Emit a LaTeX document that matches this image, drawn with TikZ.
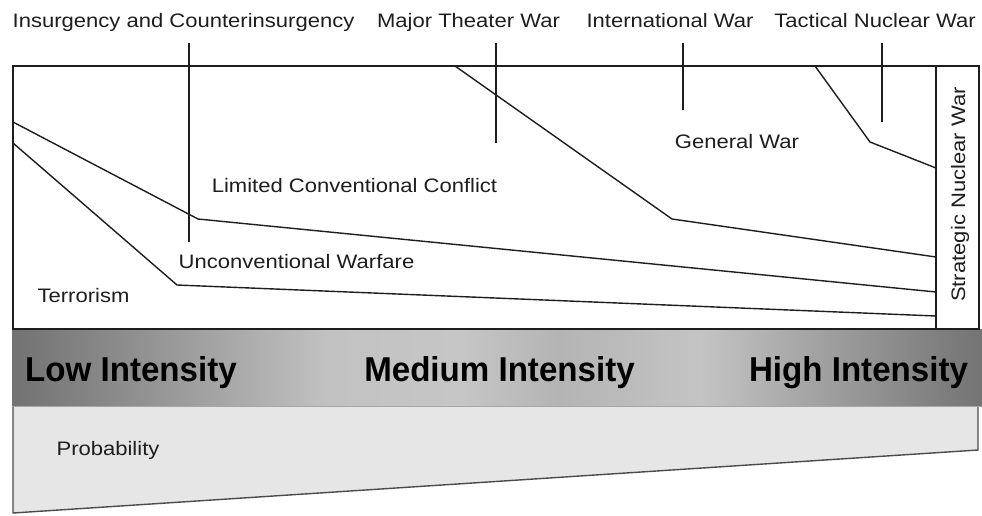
\documentclass[tikz,border=0pt]{standalone}
\usepackage{fontspec}
\setmainfont{Liberation Sans}[FakeStretch=1.13]
\newfontfamily\bandfont{Liberation Sans}[FakeStretch=0.96]
\definecolor{ink}{HTML}{1E1E1E}
\definecolor{gA}{HTML}{727272}
\definecolor{gB}{HTML}{8C8C8C}
\definecolor{gC}{HTML}{C2C2C2}
\definecolor{gD}{HTML}{C6C6C6}
\definecolor{gE}{HTML}{B4B4B4}
\definecolor{gF}{HTML}{C4C4C4}
\definecolor{gG}{HTML}{9E9E9E}
\definecolor{gH}{HTML}{737373}
\definecolor{probfill}{HTML}{E6E6E6}
\pgfdeclarehorizontalshading{bandshade}{100bp}{color(0bp)=(gA); color(25bp)=(gA); color(30.6bp)=(gB); color(41.4bp)=(gC); color(48.1bp)=(gD); color(53.2bp)=(gE); color(60.5bp)=(gF); color(67.2bp)=(gG); color(75bp)=(gH); color(100bp)=(gH)}
\tikzset{
  frame/.style={draw=ink, line width=1.4pt},
  bound/.style={draw=ink, line width=1.4pt, line join=round},
  tick/.style={draw=ink, line width=1.4pt},
  lab/.style={inner sep=0pt, anchor=base, text=ink, font=\fontsize{19.5}{22}\selectfont},
  bandlab/.style={inner sep=0pt, anchor=base, text=black, font=\bandfont\bfseries\fontsize{34.5}{38}\selectfont},
}
\begin{document}
\begin{tikzpicture}[x=1pt, y=-1pt]
\useasboundingbox (0,0) rectangle (982,515);
\fill[white] (0,0) rectangle (982,515);
% probability wedge
\coordinate (pTL) at (13,406);
\coordinate (pTR) at (978,406);
\coordinate (pBR) at (978,450);
\coordinate (pBL) at (13,513);
\fill[probfill] (pTL) -- (pTR) -- (pBR) -- (pBL) -- cycle;
\draw[draw=ink!80, line width=1.4pt] (pTR) -- (pBR) -- (pBL) -- (pTL);
% intensity band
\shade[shading=bandshade] (12,329) rectangle (982,406);
\draw[draw=gray!70, line width=0.6pt] (12,406) -- (982,406);
% main frame
\coordinate (fTL) at (13,66);
\coordinate (fTR) at (979,66);
\coordinate (fBR) at (979,329);
\coordinate (fBL) at (13,329);
\coordinate (sT) at (936,66);
\coordinate (sB) at (936,329);
\draw[frame] (fTL) -- (fTR) -- (fBR) -- (fBL) -- cycle;
\draw[frame] (sT) -- (sB);
% boundaries
\coordinate (mtA) at (455,66);
\coordinate (mtK) at (672,219);
\coordinate (mtE) at (936,257);
\draw[bound] (mtA) -- (mtK) -- (mtE);
\coordinate (uwA) at (13,122);
\coordinate (uwK) at (198,219);
\coordinate (uwE) at (936,292);
\draw[bound] (uwA) -- (uwK) -- (uwE);
\coordinate (trA) at (13,143);
\coordinate (trK) at (177,285);
\coordinate (trE) at (936,316);
\draw[bound] (trA) -- (trK) -- (trE);
\coordinate (tnA) at (815,66);
\coordinate (tnK) at (870,142);
\coordinate (tnE) at (936,168);
\draw[bound] (tnA) -- (tnK) -- (tnE);
% ticks
\coordinate (t1a) at (189,43); \coordinate (t1b) at (189,242);
\coordinate (t2a) at (496,43); \coordinate (t2b) at (496,143);
\coordinate (t3a) at (683,43); \coordinate (t3b) at (683,110);
\coordinate (t4a) at (882,43); \coordinate (t4b) at (882,122);
\draw[tick] (t1a) -- (t1b);
\draw[tick] (t2a) -- (t2b);
\draw[tick] (t3a) -- (t3b);
\draw[tick] (t4a) -- (t4b);
% top labels
\node[lab] (insurg) at (183.5,27) {Insurgency and Counterinsurgency};
\node[lab] (mtw) at (468.5,27) {Major Theater War};
\node[lab] (intw) at (670,27) {International War};
\node[lab] (tnw) at (875,27) {Tactical Nuclear War};
% inner labels
\node[lab] (lcc) at (354.5,192) {Limited Conventional Conflict};
\node[lab] (uw) at (296.5,268) {Unconventional Warfare};
\node[lab] (terr) at (83.5,302) {Terrorism};
\node[lab] (gw) at (737,148) {General War};
\node[lab, rotate=90] (snw) at (965,194.5) {Strategic Nuclear War};
% band labels
\node[bandlab] (low) at (131,381) {Low Intensity};
\node[bandlab] (med) at (499.5,381) {Medium Intensity};
\node[bandlab] (high) at (858.5,381) {High Intensity};
% probability
\node[lab] (prob) at (108,455) {Probability};
\end{tikzpicture}
\end{document}
